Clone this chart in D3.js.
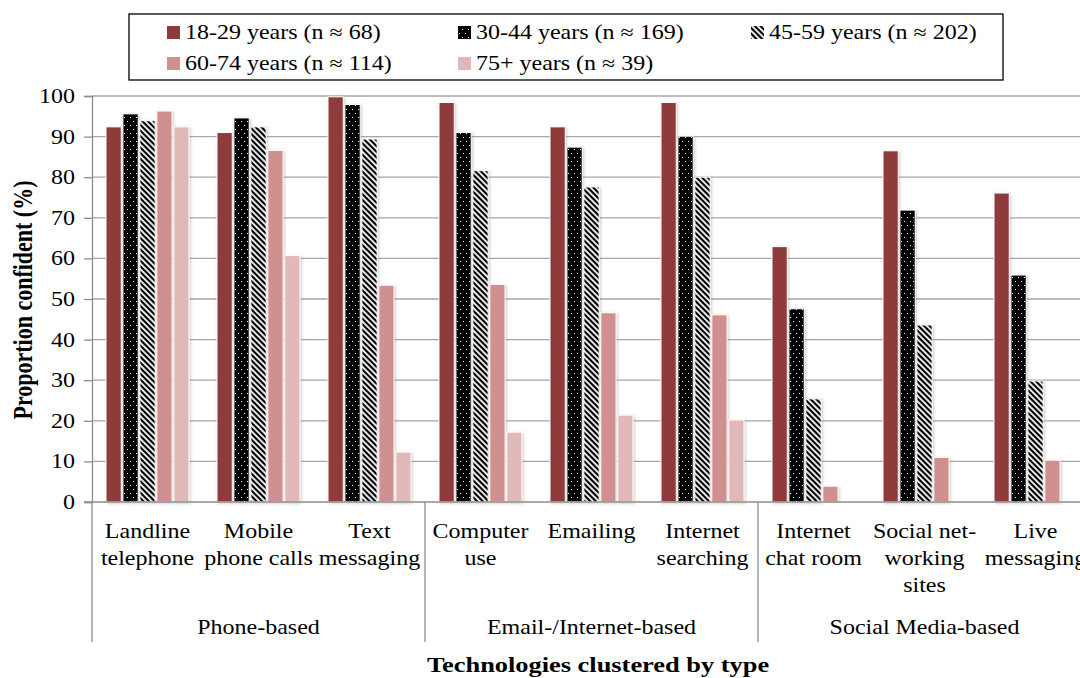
<!DOCTYPE html>
<html>
<head>
<meta charset="utf-8">
<script src="https://cdn.jsdelivr.net/npm/d3@7"></script>
<style>
  body { margin: 0; background: #fff; }
</style>
</head>
<body>
<div id="chart-container"></div>
<script>
// chart data
const categories = [
  "Landline|telephone", "Mobile|phone calls", "Text|messaging",
  "Computer|use", "Emailing", "Internet|searching",
  "Internet|chat room", "Social net-|working|sites", "Live|messaging"
];
const groupNames = ["Phone-based", "Email-/Internet-based", "Social Media-based"];
const groupSizes = [3, 3, 3];
const seriesNames = [
  "18-29 years (n \u2248 68)", "30-44 years (n \u2248 169)", "45-59 years (n \u2248 202)",
  "60-74 years (n \u2248 114)", "75+ years (n \u2248 39)"
];
const age18 = [92.4, 91.0, 99.8, 98.4, 92.4, 98.4, 62.9, 86.5, 76.1];
const age30 = [95.6, 94.6, 97.9, 91.0, 87.4, 90.1, 47.6, 71.9, 55.9];
const age45 = [93.9, 92.4, 89.4, 81.6, 77.6, 80.0, 25.4, 43.6, 29.8];
const age60 = [96.3, 86.6, 53.4, 53.6, 46.6, 46.1, 3.9, 11.0, 10.3];
const age75 = [92.4, 60.7, 12.3, 17.2, 21.4, 20.2, null, null, null];
const yTicks = [0, 10, 20, 30, 40, 50, 60, 70, 80, 90, 100];

const seriesValues = [age18, age30, age45, age60, age75];
const fills = ["#8e3a3a", "url(#dots)", "url(#stripes)", "#d09090", "#e2b9b9"];

const containerWidth = 1080;
const containerHeight = 678;
const plotLeft = 92, plotRight = 1091, plotTop = 96, plotBottom = 502;
const serif = "'Liberation Serif', 'Times New Roman', serif";
// the original picture is stretched sideways, so text is widened a bit
const sx = 1.2;

const svg = d3.select("#chart-container")
  .append("svg")
  .attr("width", containerWidth)
  .attr("height", containerHeight)
  .attr("font-family", serif);

// text placed at (x, y) and widened by sx
function wideText(parent, x, y) {
  return parent.append("g")
    .attr("transform", `translate(${x},${y}) scale(${sx},1)`)
    .append("text");
}

const defs = svg.append("defs");

// black with white dots
const dots = defs.append("pattern")
  .attr("id", "dots")
  .attr("patternUnits", "userSpaceOnUse")
  .attr("width", 6).attr("height", 8);
dots.append("rect").attr("width", 6).attr("height", 8).attr("fill", "#000");
dots.append("rect").attr("x", 1).attr("y", 1).attr("width", 1).attr("height", 1).attr("fill", "#fff");
dots.append("rect").attr("x", 4).attr("y", 5).attr("width", 1).attr("height", 1).attr("fill", "#fff");

// diagonal stripes, running down to the right
const stripes = defs.append("pattern")
  .attr("id", "stripes")
  .attr("patternUnits", "userSpaceOnUse")
  .attr("width", 4).attr("height", 4)
  .attr("patternTransform", "rotate(45)");
stripes.append("rect").attr("width", 4).attr("height", 4).attr("fill", "#fff");
stripes.append("rect").attr("width", 4).attr("height", 2.2).attr("fill", "#000");

const shadow = defs.append("filter")
  .attr("id", "shadow")
  .attr("x", "-30%").attr("y", "-5%").attr("width", "160%").attr("height", "110%");
shadow.append("feDropShadow")
  .attr("dx", 1).attr("dy", 1).attr("stdDeviation", 1.5)
  .attr("flood-color", "#888").attr("flood-opacity", 0.45);

// scales
const y = d3.scaleLinear().domain([0, 100]).range([plotBottom, plotTop]);
const x0 = d3.scaleBand().domain(categories).range([plotLeft, plotRight]).padding(0);
const x1 = d3.scaleBand().domain(d3.range(5)).range([14, 97]).paddingInner(0.1);

// gridlines
svg.append("g")
  .selectAll("line")
  .data(yTicks.filter(d => d > 0))
  .enter()
  .append("line")
  .attr("x1", plotLeft).attr("x2", plotRight)
  .attr("y1", d => y(d)).attr("y2", d => y(d))
  .attr("stroke", "#a6a6a6").attr("stroke-width", 1.3);

// y axis
const yAxis = svg.append("g")
  .attr("transform", `translate(${plotLeft},0)`)
  .call(d3.axisLeft(y).tickValues(yTicks).tickSize(8).tickPadding(8));
yAxis.attr("font-family", serif).attr("font-size", 20);
yAxis.select(".domain").attr("stroke", "#8c8c8c").attr("stroke-width", 1.3);
yAxis.selectAll(".tick line").attr("stroke", "#8c8c8c").attr("stroke-width", 1.3);
yAxis.selectAll("text")
  .attr("fill", "#000")
  .attr("x", -17 / sx)
  .attr("transform", `scale(${sx},1)`);

// bars
const barData = [];
categories.forEach((c, i) => {
  seriesValues.forEach((vals, s) => {
    if (vals[i] != null) barData.push({ cat: c, s: s, v: vals[i] });
  });
});

svg.append("g")
  .selectAll("rect")
  .data(barData)
  .enter()
  .append("rect")
  .attr("x", d => x0(d.cat) + x1(d.s))
  .attr("y", d => y(d.v))
  .attr("width", x1.bandwidth())
  .attr("height", d => plotBottom - y(d.v))
  .attr("fill", d => fills[d.s])
  .attr("stroke", "#fff")
  .attr("stroke-width", 1)
  .attr("filter", "url(#shadow)");

// x axis line
svg.append("line")
  .attr("x1", plotLeft - 8).attr("x2", plotRight)
  .attr("y1", plotBottom).attr("y2", plotBottom)
  .attr("stroke", "#8c8c8c").attr("stroke-width", 1.3);

// group separators
let start = 0;
const groupBounds = groupSizes.map(n => {
  const b = [start, start + n];
  start += n;
  return b;
});
svg.append("g")
  .selectAll("line")
  .data(groupBounds)
  .enter()
  .append("line")
  .attr("x1", d => x0(categories[d[0]])).attr("x2", d => x0(categories[d[0]]))
  .attr("y1", plotBottom).attr("y2", 642)
  .attr("stroke", "#8c8c8c").attr("stroke-width", 1.3);

// category labels
const catG = svg.append("g");
categories.forEach(c => {
  const t = wideText(catG, x0(c) + x0.bandwidth() / 2, 0)
    .attr("text-anchor", "middle")
    .attr("font-size", 20);
  t.selectAll("tspan")
    .data(c.split("|"))
    .enter()
    .append("tspan")
    .attr("x", 0)
    .attr("y", (d, i) => 538 + i * 27)
    .text(d => d);
});

// group labels
const groupG = svg.append("g");
groupNames.forEach((g, i) => {
  const gx = (x0(categories[groupBounds[i][0]]) + x0(categories[groupBounds[i][1] - 1]) + x0.bandwidth()) / 2;
  wideText(groupG, gx, 634)
    .attr("text-anchor", "middle")
    .attr("font-size", 20)
    .text(g);
});

// axis titles
svg.append("g")
  .attr("transform", `translate(32,300) scale(${sx},1) rotate(-90)`)
  .append("text")
  .attr("text-anchor", "middle")
  .attr("font-size", 22)
  .attr("font-weight", "bold")
  .text("Proportion confident (%)");

wideText(svg, 598, 672)
  .attr("text-anchor", "middle")
  .attr("font-size", 22)
  .attr("font-weight", "bold")
  .text("Technologies clustered by type");

// legend
svg.append("rect")
  .attr("x", 129).attr("y", 14)
  .attr("width", 874).attr("height", 66)
  .attr("fill", "#fff")
  .attr("stroke", "#000").attr("stroke-width", 1.3);

const legendPos = [[167, 32], [458, 32], [751, 32], [167, 63], [458, 63]];
const legend = svg.append("g")
  .selectAll("g")
  .data(seriesNames)
  .enter()
  .append("g")
  .attr("transform", (d, i) => `translate(${legendPos[i][0]},${legendPos[i][1]})`);
legend.append("rect")
  .attr("x", 0).attr("y", -6)
  .attr("width", 13).attr("height", 13)
  .attr("fill", (d, i) => fills[i]);
legend.each(function(d) {
  wideText(d3.select(this), 18, 7)
    .attr("font-size", 20)
    .text(d);
});
</script>
</body>
</html>
